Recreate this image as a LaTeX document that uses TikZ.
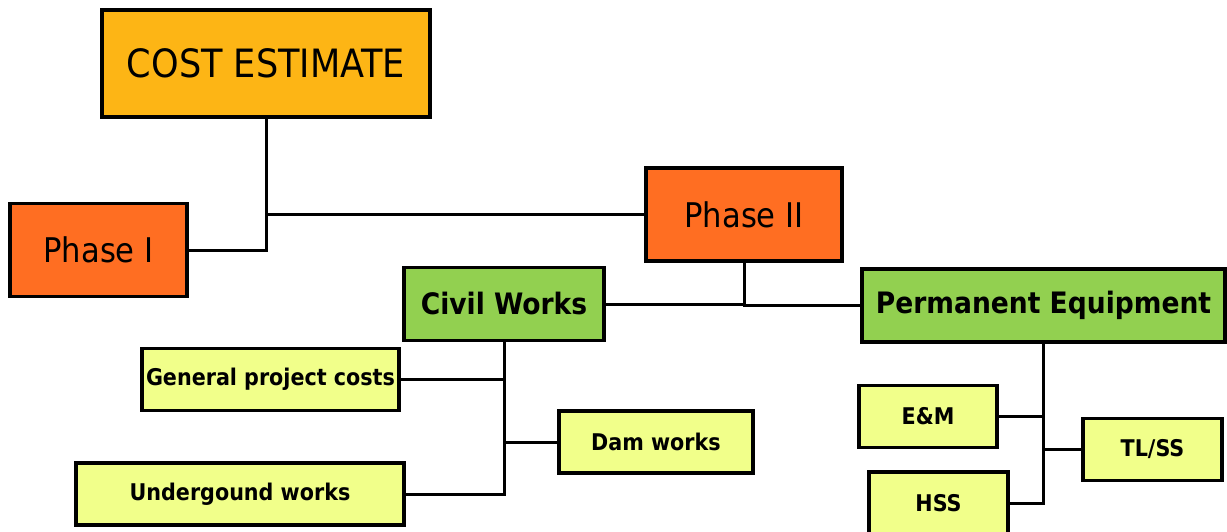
\documentclass[tikz,border=0pt]{standalone}
\usepackage{fontspec}
\setmainfont{DejaVu Sans Condensed}
\usetikzlibrary{positioning}
\definecolor{costgold}{RGB}{253,181,21}
\definecolor{phaseorange}{RGB}{255,110,34}
\definecolor{groupgreen}{RGB}{146,208,80}
\definecolor{itemyellow}{RGB}{241,255,138}
\begin{document}
\begin{tikzpicture}[x=1pt, y=-1pt,
        topbox/.style={rectangle, draw, line width=3.2pt, fill=costgold,
            minimum width=328pt, minimum height=107pt, inner sep=0pt,
            text centered, font=\fontsize{39}{45}\selectfont},
        phasebox/.style={rectangle, draw, line width=3.2pt, fill=phaseorange,
            minimum height=93pt, inner sep=0pt, text centered,
            font=\fontsize{34}{39}\selectfont},
        groupbox/.style={rectangle, draw, line width=3.2pt, fill=groupgreen,
            minimum height=73pt, inner sep=0pt, text centered,
            font=\bfseries\fontsize{29.5}{34}\selectfont},
        itembox/.style={rectangle, draw, line width=3.2pt, fill=itemyellow,
            minimum height=62pt, inner sep=0pt, text centered,
            font=\bfseries\fontsize{23}{27}\selectfont},
        link/.style={line width=3pt},
    ]
        \useasboundingbox (0,0) rectangle (1227,532);

        % Top and phases
        \node[topbox] (cost) at (266, 63.5) {COST ESTIMATE};
        \node[phasebox, minimum width=177pt] (phaseI) at (98.5, 250) {Phase I};
        \node[phasebox, minimum width=196pt] (phaseII) at (744, 214.5) {Phase II};

        % Groups
        \node[groupbox, minimum width=200pt] (civil) at (504, 304) {Civil Works};
        \node[groupbox, minimum width=363pt] (perm) at (1043.5, 305.5) {Permanent Equipment};

        % Civil works items
        \node[itembox, minimum width=257pt] (general) at (270.5, 379.5) {General project costs};
        \node[itembox, minimum width=194pt] (dam) at (656, 442) {Dam works};
        \node[itembox, minimum width=328pt] (under) at (240, 494) {Undergound works};

        % Equipment items
        \node[itembox, minimum width=138pt] (em) at (928, 416.5) {E\&M};
        \node[itembox, minimum width=139pt] (tlss) at (1152.5, 449.5) {TL/SS};
        \node[itembox, minimum width=139pt] (hss) at (938.5, 503) {HSS};

        % Links
        \draw[link] (cost.south) |- (phaseI.east);
        \draw[link] (cost.south |- phaseII.west) -- (phaseII.west);
        \draw[link] (civil.east) -| (phaseII.south);
        \draw[link] (phaseII.south) |- (perm.west);
        \draw[link] (civil.south) |- (under.east);
        \draw[link] (general.east) -- (general.east -| civil.south);
        \draw[link] (dam.west) -- (dam.west -| civil.south);
        \draw[link] (perm.south) |- (hss.east);
        \draw[link] (em.east) -- (em.east -| perm.south);
        \draw[link] (tlss.west) -- (tlss.west -| perm.south);
    \end{tikzpicture}
\end{document}
